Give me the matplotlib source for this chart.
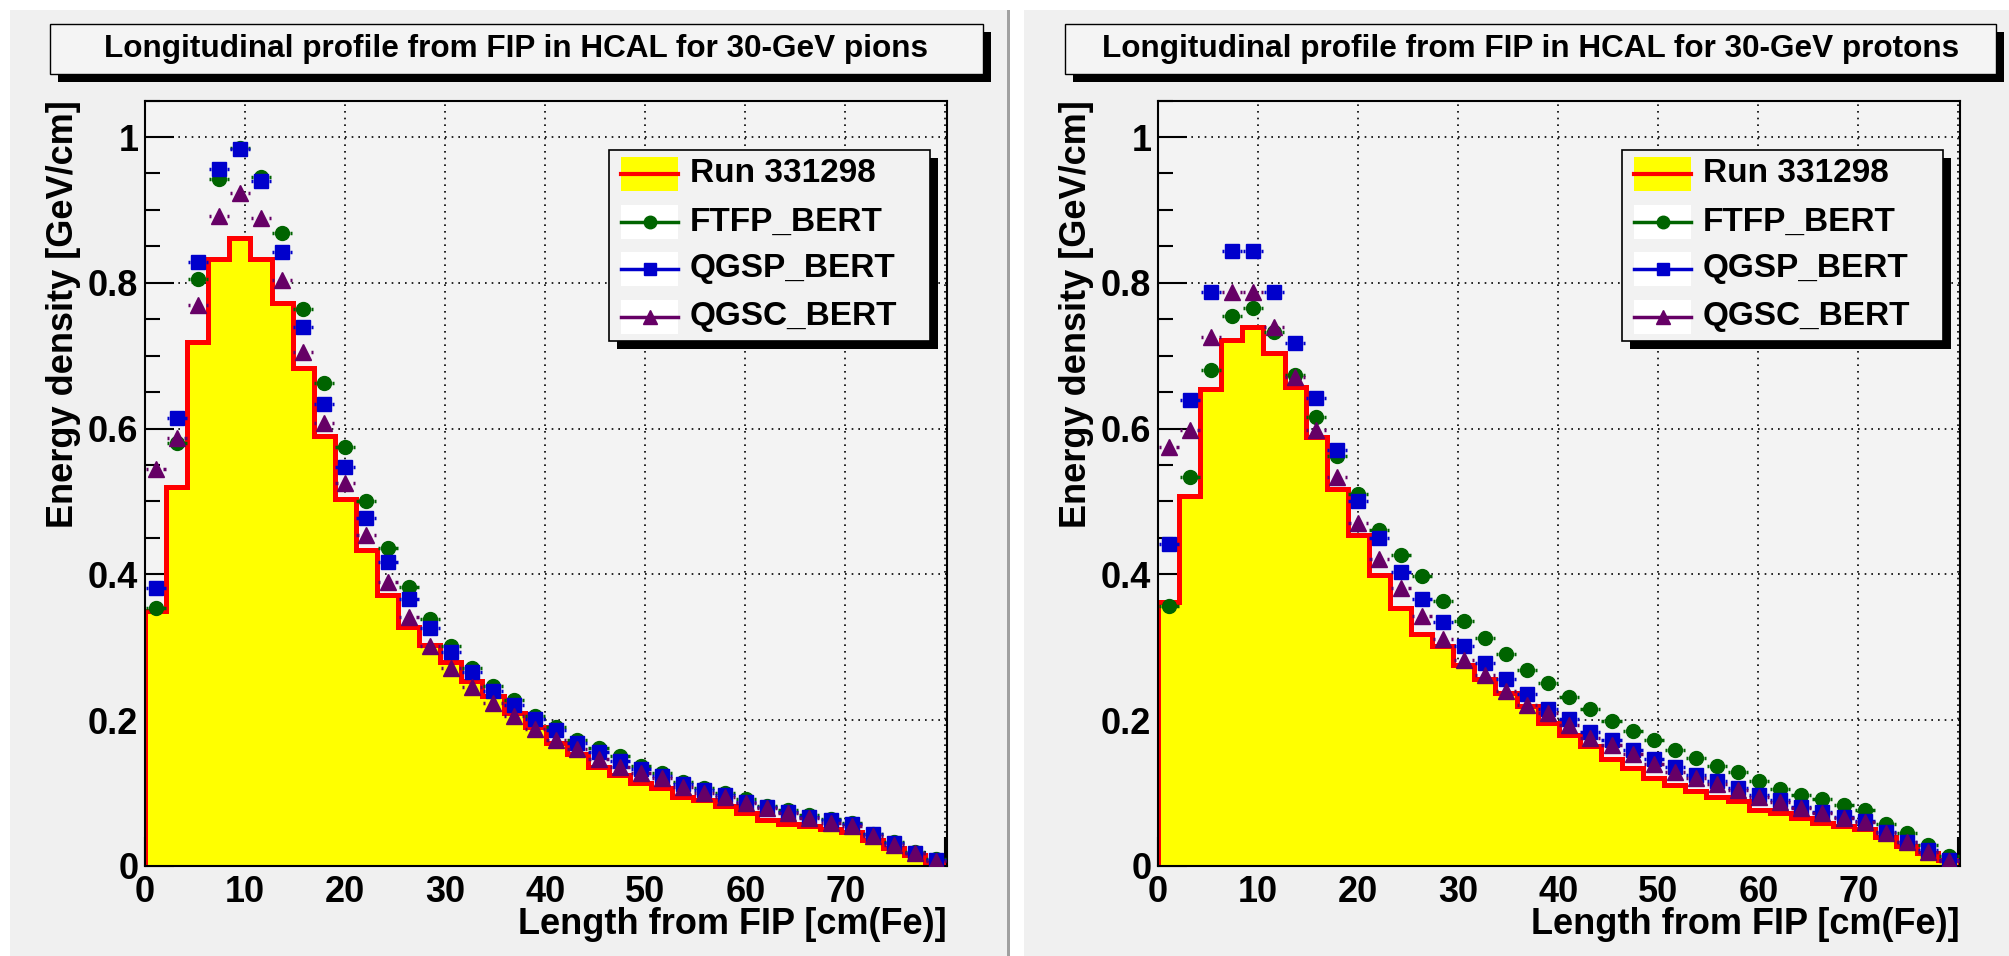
import numpy as np
import matplotlib
matplotlib.use("Agg")
import matplotlib.pyplot as plt
from matplotlib.patches import Rectangle
from matplotlib.lines import Line2D
from matplotlib.ticker import MultipleLocator, FuncFormatter

# --- data: 38 bins along the length from FIP (cm Fe) ---
bin_width = 2.108
n_bins = 38
edges = np.arange(n_bins + 1) * bin_width
centers = 0.5 * (edges[:-1] + edges[1:])

# 30-GeV pions
data_pi = [0.349, 0.520, 0.719, 0.832, 0.861, 0.833, 0.772, 0.683, 0.590, 0.503,
           0.434, 0.371, 0.327, 0.303, 0.280, 0.253, 0.233, 0.209, 0.190, 0.168,
           0.154, 0.136, 0.124, 0.114, 0.107, 0.094, 0.090, 0.082, 0.072, 0.063,
           0.058, 0.054, 0.051, 0.046, 0.035, 0.024, 0.015, 0.004]
ftfp_pi = [0.354, 0.580, 0.805, 0.942, 0.985, 0.945, 0.868, 0.764, 0.663, 0.575,
           0.500, 0.436, 0.382, 0.339, 0.301, 0.271, 0.247, 0.227, 0.205, 0.191,
           0.173, 0.161, 0.150, 0.137, 0.128, 0.115, 0.107, 0.100, 0.092, 0.082,
           0.077, 0.070, 0.064, 0.059, 0.044, 0.033, 0.019, 0.009]
qgsp_pi = [0.381, 0.615, 0.829, 0.956, 0.984, 0.940, 0.842, 0.740, 0.634, 0.547,
           0.477, 0.417, 0.366, 0.326, 0.294, 0.266, 0.240, 0.221, 0.202, 0.186,
           0.169, 0.156, 0.144, 0.133, 0.123, 0.112, 0.104, 0.097, 0.088, 0.081,
           0.074, 0.067, 0.063, 0.058, 0.043, 0.031, 0.018, 0.008]
qgsc_pi = [0.545, 0.587, 0.770, 0.891, 0.923, 0.889, 0.804, 0.705, 0.607, 0.525,
           0.454, 0.390, 0.342, 0.302, 0.271, 0.245, 0.223, 0.205, 0.188, 0.172,
           0.160, 0.147, 0.136, 0.127, 0.120, 0.108, 0.100, 0.094, 0.086, 0.079,
           0.072, 0.065, 0.059, 0.054, 0.041, 0.029, 0.017, 0.007]

# 30-GeV protons
data_p = [0.362, 0.507, 0.654, 0.722, 0.739, 0.704, 0.657, 0.588, 0.517, 0.454,
          0.399, 0.354, 0.318, 0.302, 0.276, 0.256, 0.237, 0.219, 0.196, 0.179,
          0.165, 0.147, 0.134, 0.120, 0.111, 0.103, 0.094, 0.089, 0.077, 0.072,
          0.065, 0.059, 0.054, 0.050, 0.039, 0.027, 0.017, 0.008]
ftfp_p = [0.356, 0.533, 0.681, 0.755, 0.765, 0.732, 0.673, 0.616, 0.562, 0.510,
          0.461, 0.427, 0.397, 0.363, 0.336, 0.313, 0.291, 0.268, 0.251, 0.231,
          0.215, 0.199, 0.185, 0.173, 0.159, 0.148, 0.137, 0.129, 0.117, 0.106,
          0.097, 0.091, 0.083, 0.077, 0.058, 0.045, 0.028, 0.013]
qgsp_p = [0.441, 0.639, 0.787, 0.844, 0.844, 0.788, 0.717, 0.642, 0.571, 0.501,
          0.450, 0.403, 0.366, 0.335, 0.302, 0.278, 0.256, 0.236, 0.215, 0.201,
          0.184, 0.172, 0.159, 0.146, 0.136, 0.125, 0.117, 0.107, 0.097, 0.090,
          0.080, 0.074, 0.067, 0.061, 0.047, 0.033, 0.021, 0.008]
qgsc_p = [0.575, 0.598, 0.725, 0.787, 0.787, 0.740, 0.671, 0.598, 0.534, 0.471,
          0.421, 0.381, 0.343, 0.311, 0.282, 0.262, 0.240, 0.221, 0.209, 0.193,
          0.176, 0.166, 0.153, 0.140, 0.129, 0.120, 0.112, 0.104, 0.095, 0.087,
          0.079, 0.072, 0.066, 0.060, 0.045, 0.032, 0.019, 0.007]

titles = ["Longitudinal profile from FIP in HCAL for 30-GeV pions",
          "Longitudinal profile from FIP in HCAL for 30-GeV protons"]
legend_labels = ["Run 331298", "FTFP_BERT", "QGSP_BERT", "QGSC_BERT"]

# --- styles ---
GREEN = "#006400"
BLUE = "#0000cc"
PURPLE = "#660066"
RED = "#ff0000"
YELLOW = "#ffff00"
PAD = "#f0f0f0"
models = [("o", GREEN, 10), ("s", BLUE, 10), ("^", PURPLE, 11)]

W, H = 2009, 956
plt.rcParams['font.family'] = ['Liberation Sans', 'DejaVu Sans']
plt.rcParams['font.weight'] = 'bold'
plt.rcParams['axes.labelweight'] = 'bold'

fig = plt.figure(figsize=(W / 100, H / 100), dpi=100, facecolor="white")


def rect_px(x0, y0, x1, y1, **kw):
    fig.add_artist(Rectangle((x0 / W, 1 - y1 / H), (x1 - x0) / W, (y1 - y0) / H,
                             transform=fig.transFigure, **kw))


def line_px(x0, x1, y, **kw):
    fig.add_artist(Line2D([x0 / W, x1 / W], [1 - y / H, 1 - y / H],
                          transform=fig.transFigure, zorder=5, **kw))


# pads (behind the axes)
rect_px(10, 10, 1007, 956, fc=PAD, ec="none", zorder=-10)
rect_px(1007, 10, 1010, 956, fc="#a0a0a0", ec="none", zorder=-10)
rect_px(1024, 10, 2009, 956, fc=PAD, ec="none", zorder=-10)

panels = [
    dict(ax_left=145, box=(50, 983), data=data_pi, mc=[ftfp_pi, qgsp_pi, qgsc_pi]),
    dict(ax_left=1158, box=(1065, 1996), data=data_p, mc=[ftfp_p, qgsp_p, qgsc_p]),
]

ax_top, ax_bot, ax_w = 100.6, 865.8, 802

for i, p in enumerate(panels):
    x0 = p["ax_left"]
    ax = fig.add_axes([x0 / W, 1 - ax_bot / H, ax_w / W, (ax_bot - ax_top) / H])
    ax.set_facecolor("#f3f3f3")
    ax.set_axisbelow(True)

    ax.stairs(p["data"], edges, fill=True, color=YELLOW, zorder=1)
    ax.stairs(p["data"], edges, color=RED, lw=3.6, zorder=2)
    for (mk, col, ms), vals in zip(models, p["mc"]):
        # short stubs of the x error bar peeking out beside each marker
        ax.hlines(vals, centers - 1.0, centers - 0.78, color=col, lw=2.5, zorder=3)
        ax.hlines(vals, centers + 0.78, centers + 1.0, color=col, lw=2.5, zorder=3)
        ax.plot(centers, vals, ls="none", marker=mk, color=col, ms=ms,
                mec=col, zorder=3)

    ax.set_xlim(0, 80.15)
    ax.set_ylim(0, 1.05)
    ax.xaxis.set_major_locator(MultipleLocator(10))
    ax.xaxis.set_minor_locator(MultipleLocator(2))
    ax.yaxis.set_major_locator(MultipleLocator(0.2))
    ax.yaxis.set_minor_locator(MultipleLocator(0.05))
    ax.xaxis.set_major_formatter(FuncFormatter(lambda v, _: f"{v:g}" if v < 75 else ""))
    ax.yaxis.set_major_formatter(FuncFormatter(lambda v, _: f"{v:g}"))
    ax.tick_params(which="both", direction="in", width=1.5, labelsize=26)
    ax.tick_params(which="major", length=21)
    ax.tick_params(which="minor", length=11)
    ax.tick_params(axis="x", pad=6.5)
    ax.tick_params(axis="y", pad=4.7)
    for s in ax.spines.values():
        s.set_linewidth(1.5)
    ax.grid(which="major", color="black", ls=(0, (1, 3)), lw=1.2)

    ax.set_xlabel("Length from FIP [cm(Fe)]", fontsize=26, loc="right")
    ax.xaxis.set_label_coords(1.0, -0.054)
    ax.set_ylabel("Energy density [GeV/cm]", fontsize=26, loc="top")
    ax.yaxis.set_label_coords(-0.08, 1.0)

    # title box with shadow
    bx0, bx1 = p["box"]
    rect_px(bx0 + 8, 32, bx1 + 8, 82, fc="black", ec="none", zorder=4)
    rect_px(bx0, 24, bx1, 74, fc="#f4f4f4", ec="black", lw=1, zorder=4)
    fig.text((bx0 + bx1) / 2 / W, 1 - 49 / H, titles[i], fontsize=22.7,
             ha="center", va="center", zorder=6)

    # legend box with shadow
    lx0, lx1 = x0 + 464, x0 + 785
    rect_px(lx0 + 8, 158, lx1 + 8, 349, fc="black", ec="none", zorder=4)
    rect_px(lx0, 150, lx1, 341, fc="#f2f2f2", ec="black", lw=1.2, zorder=4)
    rows = [174, 222, 269, 317]
    sx0, sx1 = lx0 + 12, lx0 + 69
    for j, (lab, y) in enumerate(zip(legend_labels, rows)):
        if j == 0:
            rect_px(sx0, y - 17, sx1, y + 17, fc=YELLOW, ec="none", zorder=4.5)
            line_px(sx0, sx1, y, color=RED, lw=3)
        else:
            mk, col, ms = models[j - 1]
            rect_px(sx0, y - 17, sx1, y + 17, fc="white", ec="none", zorder=4.5)
            line_px(sx0, sx1, y, color=col, lw=2.5)
            fig.add_artist(Line2D([(sx0 + sx1) / 2 / W], [1 - y / H], marker=mk,
                                  color=col, ms=ms - 1, transform=fig.transFigure,
                                  zorder=5))
        fig.text((lx0 + 81) / W, 1 - y / H, lab, fontsize=24, ha="left",
                 va="center", zorder=6)

fig.savefig("out.png", dpi=100, facecolor=fig.get_facecolor())
